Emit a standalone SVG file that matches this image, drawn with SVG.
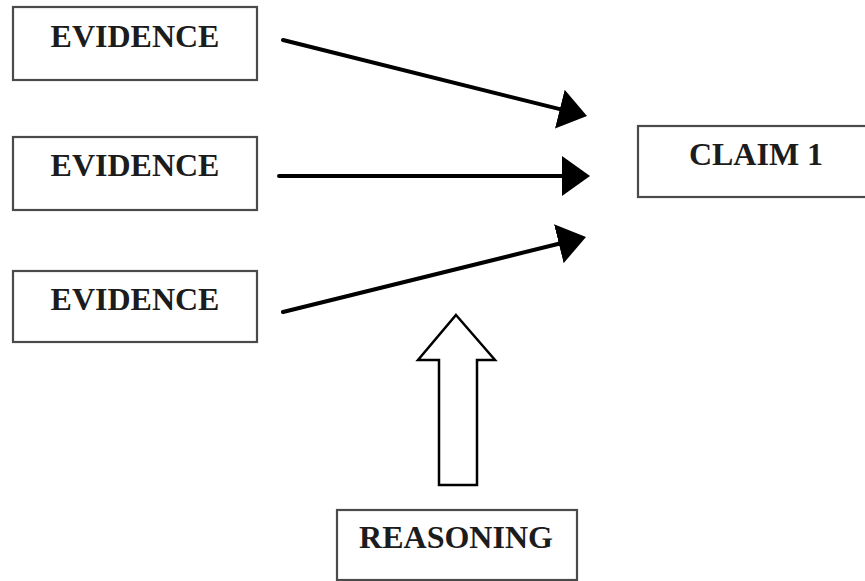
<svg xmlns="http://www.w3.org/2000/svg" width="865" height="581" viewBox="0 0 865 581">
  <style>
    .box { fill: #ffffff; stroke: #4a4a4a; stroke-width: 2.2; }
    .label { font-family: "Liberation Serif", "Times New Roman", serif; font-weight: bold; font-size: 32px; fill: #1c1c1c; text-anchor: middle; }
    .conn { stroke: #000000; stroke-width: 4; fill: none; stroke-linecap: round; }
    .hollow { fill: #ffffff; stroke: #000000; stroke-width: 2.5; stroke-linejoin: miter; }
  </style>
  <defs>
    <marker id="head" markerUnits="userSpaceOnUse" viewBox="0 0 28 40" markerWidth="28" markerHeight="40" refX="1" refY="20" orient="auto">
      <path d="M0,0 L28,20 L0,40 Z" fill="#000000"/>
    </marker>
  </defs>
  <rect width="865" height="581" fill="#ffffff"/>

  <g id="evidence1">
    <rect class="box" x="13" y="7" width="244" height="73"/>
    <text class="label" x="135" y="47">EVIDENCE</text>
  </g>
  <g id="evidence2">
    <rect class="box" x="13" y="137" width="244" height="73"/>
    <text class="label" x="135" y="176">EVIDENCE</text>
  </g>
  <g id="evidence3">
    <rect class="box" x="13" y="271" width="244" height="71"/>
    <text class="label" x="135" y="310">EVIDENCE</text>
  </g>
  <g id="claim1">
    <rect class="box" x="638" y="126" width="240" height="71"/>
    <text class="label" x="756" y="165">CLAIM 1</text>
  </g>
  <g id="reasoning">
    <rect class="box" x="337" y="510" width="240" height="70"/>
    <text class="label" x="456" y="548">REASONING</text>
  </g>

  <g id="connectors">
    <line class="conn" x1="283" y1="40" x2="560.8" y2="109.4" marker-end="url(#head)"/>
    <line class="conn" x1="279" y1="176" x2="563" y2="176" marker-end="url(#head)"/>
    <line class="conn" x1="283" y1="312" x2="559.8" y2="243.5" marker-end="url(#head)"/>
    <polygon class="hollow" points="456,315 495,360 477,360 477,485 439,485 439,360 418,360"/>
  </g>
</svg>
